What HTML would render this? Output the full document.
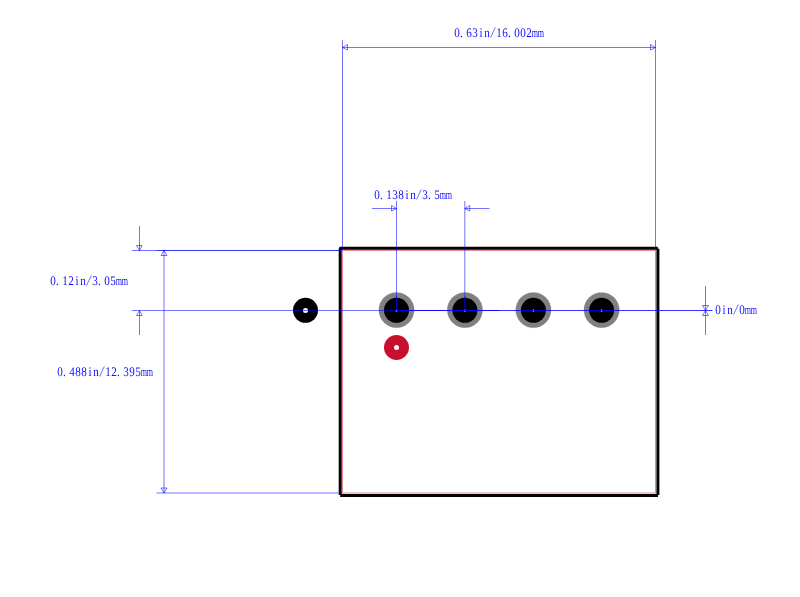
<!DOCTYPE html>
<html><head><meta charset="utf-8"><style>
html,body{margin:0;padding:0;background:#fff;}
svg{display:block;} text{text-rendering:geometricPrecision;}
</style></head><body>
<svg width="800" height="597" viewBox="0 0 800 597">
<rect width="800" height="597" fill="#fff"/>
<rect x="342.5" y="250.5" width="313" height="242.5" fill="none" stroke="#c8102e" stroke-opacity="0.5" stroke-width="1"/>
<g stroke="#000" stroke-width="3" fill="none">
<line x1="339.6" y1="248.2" x2="657.8" y2="248.2"/>
<line x1="657.9" y1="248.7" x2="657.9" y2="495"/>
<line x1="658" y1="495.4" x2="340.2" y2="495.4"/>
<line x1="340.2" y1="495" x2="340.2" y2="248.6"/>
<path d="M338.7,249.6 Q338.9,246.9 341.2,246.7 L341.2,249.6 Z" fill="#000" stroke="none"/>
</g>
<g fill="#808080">
<circle cx="396.5" cy="310.1" r="17.7" stroke="#7a9a7a" stroke-opacity="0.35" stroke-width="0.6"/>
<circle cx="464.9" cy="310.1" r="17.7" stroke="#7a9a7a" stroke-opacity="0.35" stroke-width="0.6"/>
<circle cx="533.4" cy="310.1" r="17.7" stroke="#7a9a7a" stroke-opacity="0.35" stroke-width="0.6"/>
<circle cx="601.6" cy="310.1" r="17.7" stroke="#7a9a7a" stroke-opacity="0.35" stroke-width="0.6"/>
</g>
<g fill="#000">
<circle cx="396.5" cy="310.3" r="12.5"/>
<circle cx="464.9" cy="310.3" r="12.5"/>
<circle cx="533.4" cy="310.3" r="12.5"/>
<circle cx="601.6" cy="310.3" r="12.5"/>
<circle cx="305.5" cy="310.3" r="12.5"/>
</g>
<circle cx="396.5" cy="347.5" r="12.5" fill="#c8102e"/>
<circle cx="305.5" cy="310.6" r="2.5" fill="#fff"/>
<circle cx="396.5" cy="347.4" r="2.5" fill="#fff"/>
<g fill="#b0aa90" opacity="0.85">
<rect x="395.8" y="309.2" width="1.4" height="2.8"/>
<rect x="464.2" y="309.2" width="1.4" height="2.8"/>
<rect x="532.7" y="309.2" width="1.4" height="2.8"/>
<rect x="600.9" y="309.2" width="1.4" height="2.8"/>
</g>
<g stroke="#0000ff" stroke-width="1" fill="none">
<line x1="342.5" y1="40" x2="342.5" y2="250" stroke-opacity="0.55"/>
<line x1="655.5" y1="40" x2="655.5" y2="250" stroke-opacity="0.55"/>
<line x1="342.5" y1="47.5" x2="655.5" y2="47.5" stroke-opacity="0.55"/>
<polygon points="342.5,47.5 347.5,44.5 347.5,50" stroke-opacity="0.55"/>
<polygon points="655.5,47.5 650.5,44.5 650.5,50" stroke-opacity="0.55"/>
<line x1="396.5" y1="201" x2="396.5" y2="310" stroke-opacity="0.55"/>
<line x1="464.8" y1="201" x2="464.8" y2="310" stroke-opacity="0.55"/>
<line x1="372" y1="208.5" x2="396.5" y2="208.5" stroke-opacity="0.55"/>
<line x1="464.8" y1="208.5" x2="489.5" y2="208.5" stroke-opacity="0.55"/>
<polygon points="396.5,208.5 391.5,205.5 391.5,211" stroke-opacity="0.55"/>
<polygon points="464.8,208.5 469.8,205.5 469.8,211" stroke-opacity="0.55"/>
<line x1="396.5" y1="296" x2="396.5" y2="310" stroke-opacity="0.5"/>
<line x1="464.8" y1="296" x2="464.8" y2="310" stroke-opacity="0.5"/>
<line x1="132" y1="250.5" x2="342" y2="250.5" stroke-opacity="0.55"/>
<line x1="132" y1="310.5" x2="396.5" y2="310.5" stroke-opacity="0.55"/>
<line x1="139.5" y1="226" x2="139.5" y2="250.5" stroke-opacity="0.55"/>
<line x1="139.5" y1="310.5" x2="139.5" y2="335" stroke-opacity="0.55"/>
<polygon points="139.5,250.5 136.5,245.5 142,245.5" stroke-opacity="0.55"/>
<polygon points="139.5,310.5 136.5,315.5 142,315.5" stroke-opacity="0.55"/>
<line x1="156.5" y1="250.5" x2="342" y2="250.5" stroke-opacity="0.55"/>
<line x1="156.5" y1="493" x2="342" y2="493" stroke-opacity="0.55"/>
<line x1="164" y1="250.5" x2="164" y2="493" stroke-opacity="0.55"/>
<polygon points="164,250.5 161,255.5 167,255.5" stroke-opacity="0.55"/>
<polygon points="164,493 161,488 167,488" stroke-opacity="0.55"/>
<line x1="396.5" y1="310.5" x2="712.5" y2="310.5" stroke-opacity="0.8"/>
<line x1="396.5" y1="310.5" x2="499.2" y2="310.5" stroke-opacity="0.75"/>
<line x1="705.5" y1="286" x2="705.5" y2="335" stroke-opacity="0.55"/>
<polygon points="705.5,310.5 702.5,305.5 708.5,305.5" stroke-opacity="0.55"/>
<polygon points="705.5,310.5 702.5,315.5 708.5,315.5" stroke-opacity="0.55"/>
</g>

<g opacity="0.999">
<g fill="#1010ff" font-family="Liberation Serif" text-anchor="middle">
<text transform="scale(0.85,1.0)" x="537.59 542.76 551.71 558.76 565.82 572.88" y="36.800" font-size="13.1">0.63in</text>
<text transform="scale(0.85,1.0)" x="587.00 594.06 599.24 608.18 615.24 622.29" y="36.800" font-size="13.1">16.002</text>
<text transform="scale(0.62,1.0)" x="862.82 872.50" y="36.800" font-size="13">mm</text>
</g>
<line x1="490.55" y1="37.60" x2="495.35" y2="27.40" stroke="#1010ff" stroke-width="0.6"/>
<g fill="#1010ff" font-family="Liberation Serif" text-anchor="middle">
<text transform="scale(0.85,1.0)" x="443.47 448.65 457.59 464.65 471.71 478.76 485.82" y="198.800" font-size="13.1">0.138in</text>
<text transform="scale(0.85,1.0)" x="499.94 505.12 514.06" y="198.800" font-size="13.1">3.5</text>
<text transform="scale(0.62,1.0)" x="714.44 724.11" y="198.800" font-size="13">mm</text>
</g>
<line x1="416.55" y1="199.60" x2="421.35" y2="189.40" stroke="#1010ff" stroke-width="0.6"/>
<g fill="#1010ff" font-family="Liberation Serif" text-anchor="middle">
<text transform="scale(0.85,1.0)" x="62.29 67.47 76.41 83.47 90.53 97.59" y="284.800" font-size="13.1">0.12in</text>
<text transform="scale(0.85,1.0)" x="111.71 116.88 125.82 132.88" y="284.800" font-size="13.1">3.05</text>
<text transform="scale(0.62,1.0)" x="191.85 201.53" y="284.800" font-size="13">mm</text>
</g>
<line x1="86.55" y1="285.60" x2="91.35" y2="275.40" stroke="#1010ff" stroke-width="0.6"/>
<g fill="#1010ff" font-family="Liberation Serif" text-anchor="middle">
<text transform="scale(0.85,1.0)" x="70.53 75.71 84.65 91.71 98.76 105.82 112.88" y="375.800" font-size="13.1">0.488in</text>
<text transform="scale(0.85,1.0)" x="127.00 134.06 139.24 148.18 155.24 162.29" y="375.800" font-size="13.1">12.395</text>
<text transform="scale(0.62,1.0)" x="232.18 241.85" y="375.800" font-size="13">mm</text>
</g>
<line x1="99.55" y1="376.60" x2="104.35" y2="366.40" stroke="#1010ff" stroke-width="0.6"/>
<g fill="#1010ff" font-family="Liberation Serif" text-anchor="middle">
<text transform="scale(0.85,1.0)" x="844.65 851.71 858.76" y="313.800" font-size="13.1">0in</text>
<text transform="scale(0.85,1.0)" x="872.88" y="313.800" font-size="13.1">0</text>
<text transform="scale(0.62,1.0)" x="1206.37 1216.05" y="313.800" font-size="13">mm</text>
</g>
<line x1="733.55" y1="314.60" x2="738.35" y2="304.40" stroke="#1010ff" stroke-width="0.6"/>
</g>
</svg>
</body></html>
